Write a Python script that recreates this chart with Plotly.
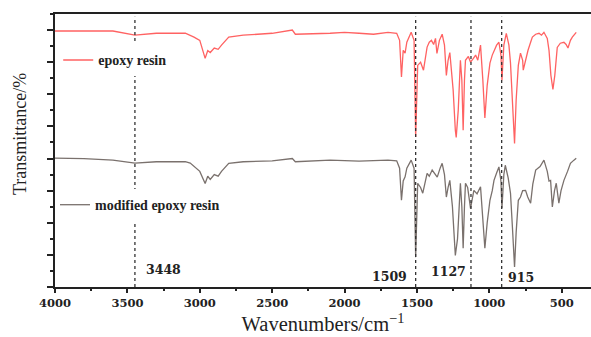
import plotly.graph_objects as go

# ---- data (wavenumber cm^-1, transmittance in arbitrary %) ----
epoxy_wn = [4000, 3600, 3448, 3300, 3100, 3066, 3040, 3000, 2963, 2945, 2928, 2900, 2873, 2850, 2800,
            2700, 2500, 2361, 2340, 2100, 2000, 1900, 1800, 1700, 1640, 1620, 1607, 1595, 1582, 1570,
            1540, 1520, 1509, 1495, 1475, 1455, 1430, 1415, 1400, 1385, 1372, 1362, 1345, 1326, 1310,
            1297, 1285, 1273, 1250, 1235, 1229, 1215, 1200, 1190, 1181, 1172, 1165, 1145, 1130, 1110,
            1095, 1080, 1061, 1045, 1031, 1015, 996, 980, 968, 950, 934, 920, 913, 900, 883, 865,
            854, 840, 826, 815, 800, 785, 770, 766, 750, 733, 715, 703, 680, 657, 640, 623, 600,
            588, 575, 561, 548, 531, 510, 485, 470, 457, 440, 427, 400]
epoxy_t = [79.7, 79.7, 78.4, 79.0, 79.0, 78.4, 77.8, 76.8, 71.2, 73.6, 73.0, 74.4, 74.0, 75.3, 77.8,
           78.4, 79.0, 80.0, 78.7, 79.0, 79.3, 79.0, 78.7, 79.3, 79.0, 76.8, 65.4, 73.7, 72.8, 76.2,
           79.3, 76.8, 46.7, 69.0, 70.0, 67.5, 74.7, 76.2, 76.8, 75.5, 77.4, 72.7, 76.8, 78.7, 75.3,
           65.9, 70.6, 73.0, 61.3, 48.8, 46.6, 55.0, 70.6, 64.4, 48.8, 64.4, 70.6, 71.8, 70.0, 71.2,
           72.2, 70.6, 75.3, 64.4, 52.6, 62.8, 69.7, 72.2, 73.7, 75.3, 76.2, 72.2, 64.4, 75.3, 79.0, 75.3,
           69.7, 58.2, 44.7, 58.2, 69.0, 72.8, 70.6, 67.5, 70.6, 73.7, 76.2, 77.8, 78.7, 79.0, 78.4, 79.3, 77.4,
           73.7, 65.9, 61.5, 65.9, 74.6, 75.9, 76.2, 75.5, 74.4, 76.8, 77.8, 79.3]

modified_wn = [4000, 3800, 3600, 3448, 3300, 3100, 3066, 3040, 3000, 2963, 2945, 2928, 2900, 2873, 2850,
               2800, 2700, 2500, 2361, 2340, 2100, 1900, 1700, 1640, 1620, 1607, 1595, 1582, 1570, 1540,
               1520, 1509, 1495, 1475, 1460, 1430, 1415, 1395, 1375, 1360, 1340, 1326, 1310, 1297, 1285,
               1273, 1255, 1240, 1235, 1220, 1200, 1190, 1181, 1172, 1165, 1150, 1130, 1107, 1085, 1061,
               1045, 1031, 1015, 996, 980, 968, 950, 934, 920, 913, 900, 890, 870, 854, 840, 826, 815,
               800, 785, 770, 750, 735, 715, 700, 680, 650, 623, 600, 588, 577, 565, 550, 538, 520, 505,
               485, 460, 440, 416, 400]
modified_t = [40.1, 40.0, 39.5, 38.6, 39.0, 39.0, 38.6, 37.5, 36.0, 32.2, 34.5, 33.5, 35.0, 34.5, 36.0,
              38.5, 39.0, 39.3, 40.0, 39.0, 39.5, 39.2, 39.5, 39.3, 37.0, 27.0, 33.0, 34.3, 37.0, 39.5,
              37.0, 9.3, 32.3, 31.0, 29.2, 35.4, 34.5, 36.4, 35.0, 34.2, 37.0, 38.5, 35.0, 28.0, 31.0,
              33.2, 25.0, 12.0, 9.8, 15.0, 32.3, 25.0, 12.1, 25.0, 32.3, 31.0, 24.5, 30.1, 29.0, 31.2,
              22.0, 12.1, 20.0, 27.0, 30.0, 33.2, 35.5, 37.4, 33.0, 24.5, 35.0, 37.9, 34.0, 29.2, 18.0, 6.2, 17.0,
              27.0, 28.0, 30.0, 30.1, 28.0, 26.1, 32.0, 36.4, 37.5, 39.5, 36.0, 33.0, 33.2, 24.9, 30.0, 32.3, 26.1, 30.0,
              33.2, 36.0, 38.5, 39.5, 40.1]

peak_wn = [3448, 1509, 1127, 915]
peak_labels = ["3448", "1509", "1127", "915"]

SERIF = "Liberation Serif"
NUMFONT = "DejaVu Serif"

fig = go.Figure()
fig.add_trace(go.Scatter(x=epoxy_wn, y=epoxy_t, mode="lines", name="epoxy resin", showlegend=True,
                         line=dict(color="#ff6262", width=1.3), legend="legend"))
fig.add_trace(go.Scatter(x=modified_wn, y=modified_t, mode="lines", name="modified epoxy resin",
                         showlegend=True,
                         line=dict(color="#7a716d", width=1.3), legend="legend2"))

# dotted marker lines
for wn in peak_wn:
    fig.add_shape(type="line", xref="x", yref="paper", x0=wn, x1=wn, y0=0, y1=0.99,
                  line=dict(color="#333333", width=1.3, dash="dot"), layer="above")

# peak labels
label_pos = {"3448": (9, 0.065, "left"), "1509": (-7, 0.037, "right"),
             "1127": (-3, 0.055, "right"), "915": (4, 0.036, "left")}
for wn, lab in zip(peak_wn, peak_labels):
    dx, yy, anchor = label_pos[lab]
    fig.add_annotation(x=wn, y=yy, xref="x", yref="paper", text=lab, showarrow=False,
                       xanchor=anchor, yanchor="middle", xshift=dx,
                       font=dict(family=NUMFONT, size=12.5, color="#222222", weight="bold"))

# y-axis title (placed slightly above centre, as in the reference)
fig.add_annotation(x=0, xref="paper", xshift=-35, y=0.56, yref="paper",
                   text="Transmittance/%", textangle=-90, showarrow=False,
                   xanchor="center", yanchor="middle",
                   font=dict(family=SERIF, size=18, color="#222222"))

legend_common = dict(bgcolor="white", borderwidth=0, xanchor="left", yanchor="middle",
                     font=dict(family=SERIF, size=14, color="#222222", weight="bold"),
                     itemwidth=30, tracegroupgap=0, visible=True)
fig.update_layout(
    width=591, height=337,
    showlegend=True,
    margin=dict(l=55, r=0, t=14, b=50),
    paper_bgcolor="white", plot_bgcolor="white",
    legend=dict(x=0.006, y=0.83, **legend_common),
    legend2=dict(x=0.0, y=0.30, **legend_common),
    xaxis=dict(range=[4000, 298], dtick=500, tick0=0, showgrid=False, zeroline=False,
               showline=True, linecolor="#222222", linewidth=2, mirror=True,
               ticks="outside", ticklen=4, tickwidth=1.5, tickcolor="#222222",
               minor=dict(dtick=250, ticks="outside", ticklen=2, tickcolor="#222222"),
               tickfont=dict(family=NUMFONT, size=11.5, color="#222222", weight="bold"),
               title=dict(text="Wavenumbers/cm<sup>−1</sup>", standoff=6,
                          font=dict(family=SERIF, size=20.5, color="#222222"))),
    yaxis=dict(range=[0, 85], dtick=10, tick0=0, showgrid=False, zeroline=False,
               showline=True, linecolor="#222222", linewidth=2, showticklabels=False,
               ticks="outside", ticklen=6, tickwidth=1.5, tickcolor="#222222",
               minor=dict(dtick=5, ticks="outside", ticklen=3, tickcolor="#222222")),
)

fig.write_html("out.html")
